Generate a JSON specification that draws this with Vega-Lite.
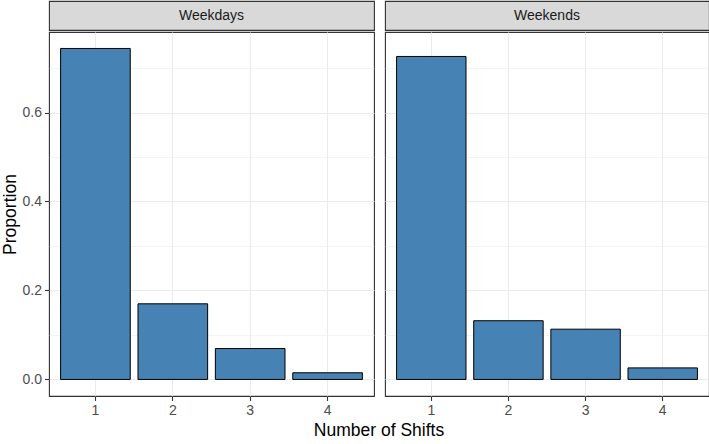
{
  "$schema": "https://vega.github.io/schema/vega-lite/v6.json",
  "padding": {"left": 0, "top": 0, "right": 1, "bottom": 2},
  "background": "white",
  "datasets": {
    "shifts": [
      {"period": "Weekdays", "shifts": "1", "proportion": 0.744},
      {"period": "Weekdays", "shifts": "2", "proportion": 0.170},
      {"period": "Weekdays", "shifts": "3", "proportion": 0.0695},
      {"period": "Weekdays", "shifts": "4", "proportion": 0.015},
      {"period": "Weekends", "shifts": "1", "proportion": 0.726},
      {"period": "Weekends", "shifts": "2", "proportion": 0.132},
      {"period": "Weekends", "shifts": "3", "proportion": 0.113},
      {"period": "Weekends", "shifts": "4", "proportion": 0.026}
    ],
    "panels": [
      {"period": "Weekdays"},
      {"period": "Weekends"}
    ]
  },
  "title": {
    "text": "Number of Shifts",
    "orient": "bottom",
    "anchor": "middle",
    "fontSize": 17.5,
    "fontWeight": "normal",
    "color": "#000000",
    "font": "Liberation Sans",
    "offset": 4,
    "dx": 24
  },
  "hconcat": [
    {
      "spacing": 0,
      "vconcat": [
        {
          "width": 325,
          "height": 29,
          "view": {"fill": "#D9D9D9", "stroke": "#333333", "strokeWidth": 1.1},
          "data": {"name": "panels"},
          "transform": [{"filter": "datum.period === 'Weekdays'"}],
          "mark": {"type": "text", "fontSize": 14, "color": "#1A1A1A", "font": "Liberation Sans", "align": "center", "baseline": "middle"},
          "encoding": {"text": {"field": "period"}}
        },
        {
          "width": 325,
          "height": 364,
          "data": {"name": "shifts"},
          "transform": [{"filter": "datum.period === 'Weekdays'"}],
          "encoding": {
            "x": {
              "field": "shifts",
              "type": "ordinal",
              "scale": {"paddingInner": 0.1, "paddingOuter": 0.15},
              "axis": {"title": null, "grid": true, "bandPosition": 0.5, "labelAngle": 0}
            }
          },
          "layer": [
            {
              "mark": {"type": "bar", "opacity": 0},
              "encoding": {
                "y": {
                  "field": "proportion",
                  "type": "quantitative",
                  "scale": {"domain": [-0.0372, 0.781], "nice": false, "zero": false},
                  "axis": {"orient": "right", "title": null, "labels": false, "ticks": false, "domain": false, "grid": true, "gridWidth": 0.55, "values": [0.1, 0.3, 0.5, 0.7]}
                }
              }
            },
            {
              "mark": {"type": "bar", "fill": "#4682B4", "stroke": "#000000", "strokeWidth": 1},
              "encoding": {
                "y": {
                  "field": "proportion",
                  "type": "quantitative",
                  "scale": {"domain": [-0.0372, 0.781], "nice": false, "zero": false},
                  "axis": {"orient": "left", "title": "Proportion", "values": [0, 0.2, 0.4, 0.6], "format": ".1f", "grid": true, "titlePadding": 3}
                }
              }
            }
          ],
          "resolve": {"axis": {"y": "independent"}}
        }
      ]
    },
    {
      "spacing": 0,
      "vconcat": [
        {
          "width": 324,
          "height": 29,
          "view": {"fill": "#D9D9D9", "stroke": "#333333", "strokeWidth": 1.1},
          "data": {"name": "panels"},
          "transform": [{"filter": "datum.period === 'Weekends'"}],
          "mark": {"type": "text", "fontSize": 14, "color": "#1A1A1A", "font": "Liberation Sans", "align": "center", "baseline": "middle"},
          "encoding": {"text": {"field": "period"}}
        },
        {
          "width": 324,
          "height": 364,
          "data": {"name": "shifts"},
          "transform": [{"filter": "datum.period === 'Weekends'"}],
          "encoding": {
            "x": {
              "field": "shifts",
              "type": "ordinal",
              "scale": {"paddingInner": 0.1, "paddingOuter": 0.15},
              "axis": {"title": null, "grid": true, "bandPosition": 0.5, "labelAngle": 0}
            }
          },
          "layer": [
            {
              "mark": {"type": "bar", "opacity": 0},
              "encoding": {
                "y": {
                  "field": "proportion",
                  "type": "quantitative",
                  "scale": {"domain": [-0.0372, 0.781], "nice": false, "zero": false},
                  "axis": {"orient": "right", "title": null, "labels": false, "ticks": false, "domain": false, "grid": true, "gridWidth": 0.55, "values": [0.1, 0.3, 0.5, 0.7]}
                }
              }
            },
            {
              "mark": {"type": "bar", "fill": "#4682B4", "stroke": "#000000", "strokeWidth": 1},
              "encoding": {
                "y": {
                  "field": "proportion",
                  "type": "quantitative",
                  "scale": {"domain": [-0.0372, 0.781], "nice": false, "zero": false},
                  "axis": {"orient": "left", "title": null, "labels": false, "ticks": false, "values": [0, 0.2, 0.4, 0.6], "grid": true}
                }
              }
            }
          ],
          "resolve": {"axis": {"y": "independent"}}
        }
      ]
    }
  ],
  "spacing": 9,
  "config": {
    "font": "Liberation Sans",
    "view": {"stroke": "#333333", "strokeWidth": 1.1},
    "axis": {
      "domain": false,
      "minExtent": 0,
      "gridColor": "#EBEBEB",
      "gridWidth": 1.1,
      "tickColor": "#333333",
      "tickSize": 4.5,
      "tickWidth": 1.1,
      "labelFontSize": 14,
      "labelColor": "#4D4D4D",
      "labelFont": "Liberation Sans",
      "labelPadding": 3,
      "titleFontSize": 17.5,
      "titleFontWeight": "normal",
      "titleColor": "#000000",
      "titleFont": "Liberation Sans"
    }
  }
}
